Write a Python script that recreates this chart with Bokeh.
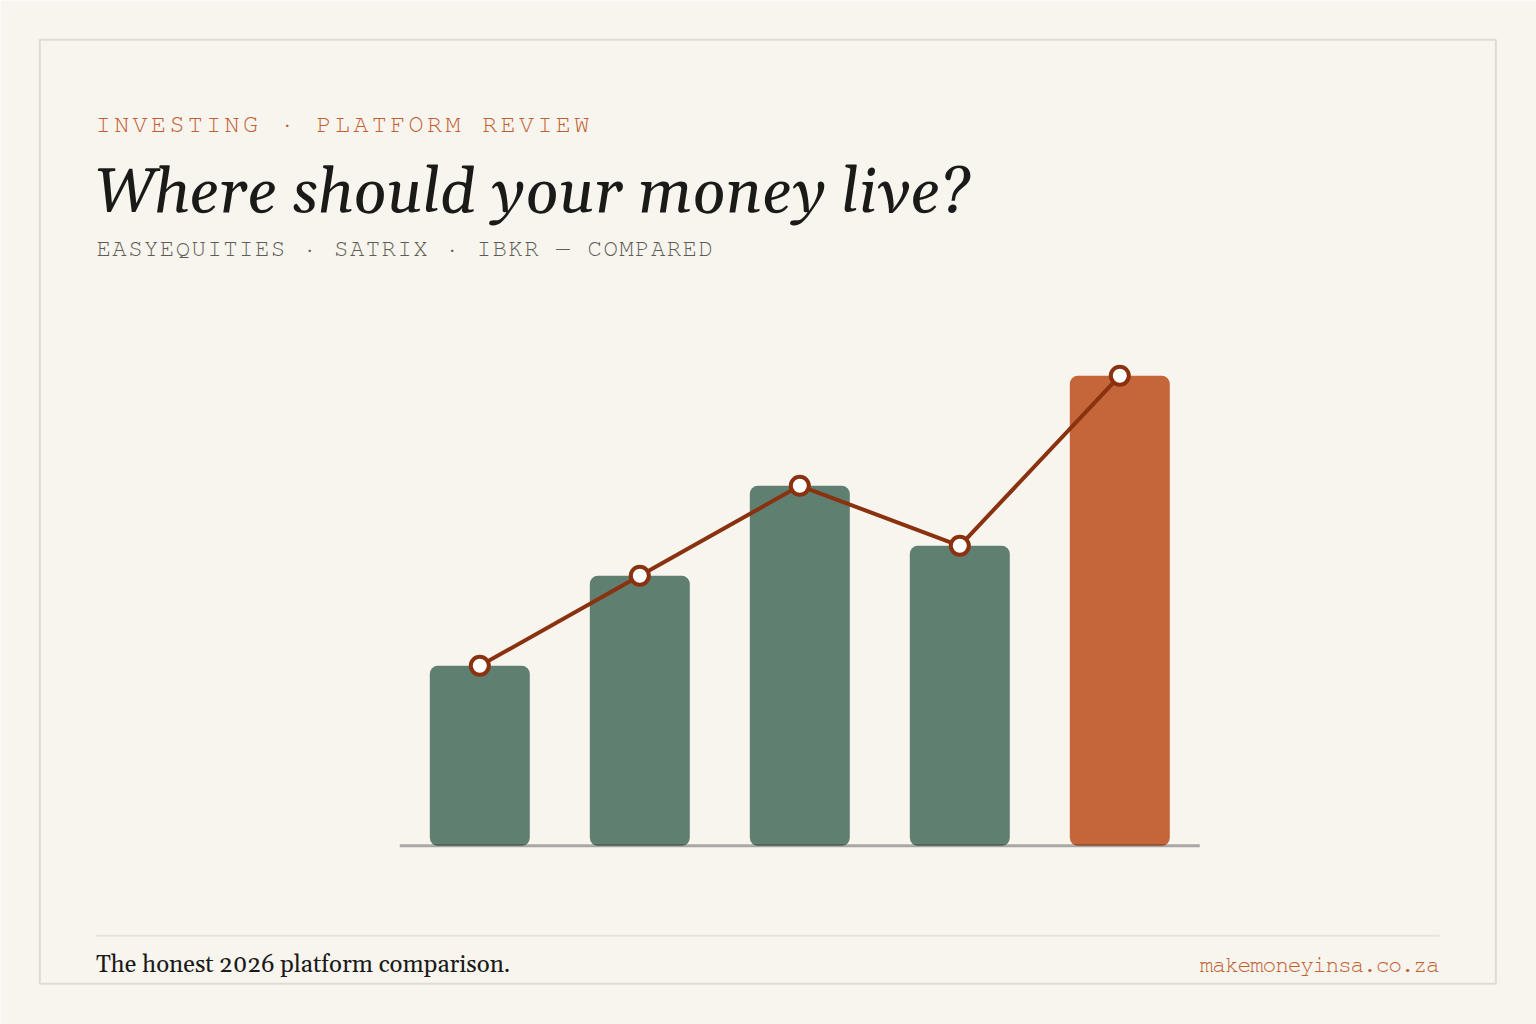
from bokeh.core.properties import value
from bokeh.embed import file_html
from bokeh.models import Range1d
from bokeh.plotting import figure
from bokeh.resources import INLINE

# chart data
positions = [1, 2, 3, 4, 5]
values = [180, 270, 360, 300, 470]
bar_colors = ["#5f7f71", "#5f7f71", "#5f7f71", "#5f7f71", "#c46639"]

eyebrow = "INVESTING · PLATFORM REVIEW"
title = "Where should your money live?"
subtitle = "EASYEQUITIES · SATRIX · IBKR — COMPARED"
footer = "The honest 2026 platform comparison."
site = "makemoneyinsa.co.za"

BG = "#f8f5ef"
MONO = "FreeMono, Liberation Mono"
SERIF = "Gelasio, Liberation Serif"
NUDGE = 0.7  # svg renders a hair low and right of the pixel grid

# primary ranges are page pixels, so the page furniture lines up with the reference
p = figure(width=1536, height=1024, output_backend="svg", toolbar_location=None,
           x_range=Range1d(NUDGE, 1536 + NUDGE), y_range=Range1d(1024 + NUDGE, NUDGE),
           x_axis_location=None, y_axis_location=None, min_border=0,
           background_fill_color=BG, border_fill_color=BG, outline_line_color=None)
p.grid.visible = False

# data scales: 160px per category, 1px per value unit, zero sits on y=846
p.extra_x_ranges["pos"] = Range1d(1 + (NUDGE - 480) / 160, 1 + (1536 + NUDGE - 480) / 160)
p.extra_y_ranges["val"] = Range1d(846 - 1024 - NUDGE, 846 - NUDGE)

# outer frame and footer rule
p.quad(left=[40], right=[1496], top=[40], bottom=[984], fill_color=None,
       line_color="#dedbd2", line_width=2)
p.segment(x0=[96], x1=[1440], y0=[936], y1=[936], line_color="#e8e4d8", line_width=2)

p.vbar(x=positions, top=values, bottom=0, width=100 / 160, fill_color=bar_colors,
       line_color=None, border_radius=[8, 8, 8, 8], x_range_name="pos", y_range_name="val")
p.segment(x0=[400], x1=[1200], y0=[846], y1=[846], line_color="#1a1a1a", line_alpha=0.35,
          line_width=3)
p.line(positions, values, line_color="#8a3210", line_width=4,
       x_range_name="pos", y_range_name="val")
p.scatter(positions, values, size=18, marker="circle", fill_color="#ffffff",
          line_color="#8a3210", line_width=4, x_range_name="pos", y_range_name="val")


def tracked(text, x, y, advance, size, color):
    # bokeh text has no letter-spacing, so the tracked mono lines go char by char
    chars = [(x + i * advance, c) for i, c in enumerate(text) if c != " "]
    p.text([c[0] for c in chars], [y] * len(chars), text=[c[1] for c in chars],
           text_font=value(MONO), text_font_size=size, text_color=color,
           text_baseline="alphabetic", text_align="left")


tracked(eyebrow, 96, 125, 18.4, "25px", "#c05f32")
tracked(subtitle, 96.7, 249, 15.84, "24px", "#5f5c55")
tracked(site, 1200, 966, 12.56, "23px", "#c05f32")

p.text([94.7], [193.7], text=[title], text_font=value(SERIF), text_font_size="62px",
       text_font_style="italic", text_color="#1a1a18", text_baseline="alphabetic")
p.text([96.2], [964.7], text=[footer], text_font=value(SERIF), text_font_size="24px",
       text_color="#1a1a18", text_baseline="alphabetic")

open("out.html", "w").write(file_html(p, INLINE))
